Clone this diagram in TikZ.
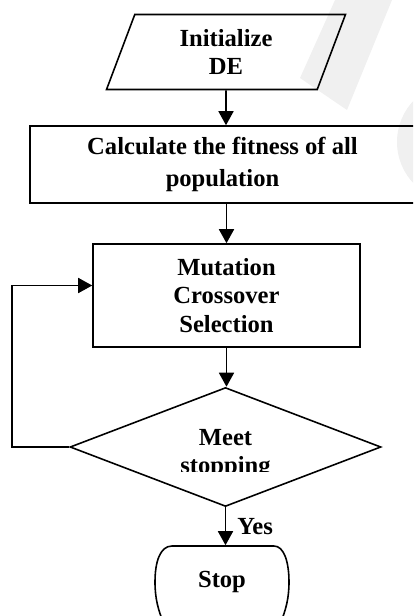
\documentclass[tikz,border=0pt]{standalone}
\usepackage{fontspec}
\setmainfont{Liberation Serif}
\usetikzlibrary{arrows.meta,shapes.geometric}

\begin{document}
\begin{tikzpicture}[x=0.02cm,y=-0.02cm,>={Triangle[width=0.3cm,length=0.28cm]},line width=0.9pt,font=\bfseries\fontsize{14}{16}\selectfont]
\tikzstyle{box}=[draw,rectangle,align=center,inner sep=0pt]
\tikzstyle{io}=[draw,trapezium,trapezium left angle=58,trapezium right angle=122,trapezium stretches body,minimum width=4.78cm,minimum height=1.5cm,align=center,inner sep=0pt]
\tikzstyle{decision}=[draw,diamond,minimum width=6.22cm,minimum height=2.38cm,inner sep=0pt]
\tikzstyle{stopbox}=[rectangle,minimum width=2.68cm,minimum height=1.44cm]
\useasboundingbox (0,0) rectangle (413,616);
\clip (0,0) rectangle (413,616);
% faint marks behind the chart
\fill[gray!12] (335,0) -- (392,0) -- (347,110) -- (300,78) -- cycle;
\fill[gray!12] (457,142) circle[radius=60];
% steps
\node[io] (init) at (226,52) {Initialize\\DE};
\node[box,minimum width=7.7cm,minimum height=1.54cm,font=\bfseries\fontsize{14}{18}\selectfont] (calc) at (222.5,164.5) {Calculate the fitness of all\\population};
\node[box,minimum width=5.34cm,minimum height=2.06cm] (mut) at (226.5,295.5) {Mutation\\Crossover\\Selection};
\node[decision] (meet) at (225.5,447) {};
\begin{scope}
\clip (120,400) rectangle (330,471);
\node[align=center] (meettxt) at (225.5,454) {Meet\\stopping};
\end{scope}
\node[stopbox] (stop) at (222,582) {Stop};
% terminator outline, runs off the bottom edge
\draw (164,624) .. controls (158,610) and (155,598) .. (155,582) .. controls (155,562) and (160,546) .. (172,546)
  -- (274,546) .. controls (284,546) and (289,562) .. (289,582) .. controls (289,598) and (286,610) .. (280,624);
% arrows
\draw[->] (init) -- (init |- calc.north);
\draw[->] (calc.south -| mut) -- (mut);
\draw[->] (mut) -- (mut |- meet.north);
\draw[->] (meet) -- node[right,xshift=3pt]{Yes} (meet |- stop.north);
\draw[->] (meet.west) -- ++(-57,0) |- ([yshift=0.2cm]mut.west);
\end{tikzpicture}
\end{document}
